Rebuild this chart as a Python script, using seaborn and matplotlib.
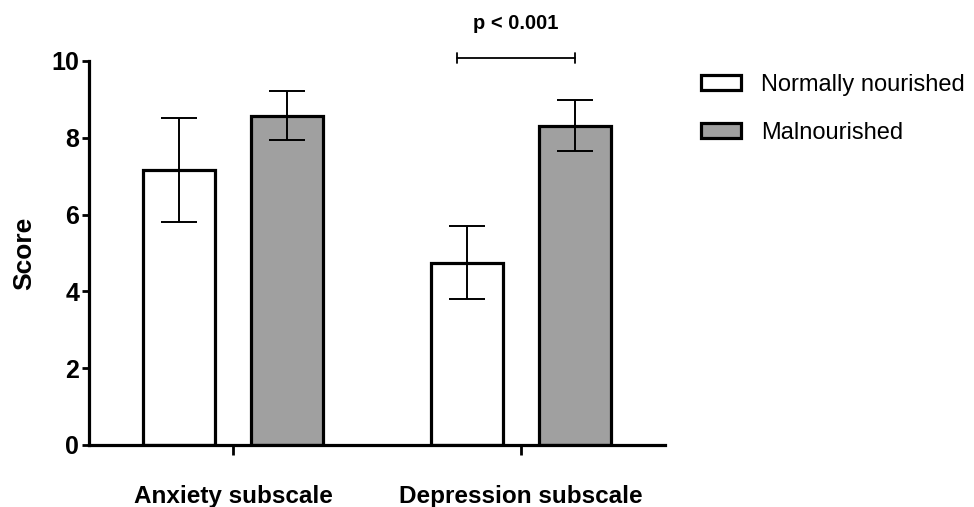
import matplotlib
matplotlib.use('Agg')
import matplotlib.pyplot as plt
import pandas as pd
import seaborn as sns

subscales = ['Anxiety subscale', 'Depression subscale']
groups = ['Normally nourished', 'Malnourished']
normal_mean = [7.16, 4.75]
normal_err = [1.35, 0.96]
malnourished_mean = [8.57, 8.32]
malnourished_err = [0.64, 0.66]
y_ticks = [0, 2, 4, 6, 8, 10]
p_label = 'p < 0.001'

df = pd.DataFrame({
    'subscale': subscales * 2,
    'group': [groups[0]] * 2 + [groups[1]] * 2,
    'score': normal_mean + malnourished_mean,
    'err': normal_err + malnourished_err,
})

sns.set_style('ticks')
plt.rcParams['font.family'] = ['Liberation Sans', 'DejaVu Sans']
plt.rcParams['text.color'] = 'black'
plt.rcParams['axes.labelcolor'] = 'black'
plt.rcParams['xtick.color'] = 'black'
plt.rcParams['ytick.color'] = 'black'
plt.rcParams['axes.edgecolor'] = 'black'

fig = plt.figure(figsize=(9.74, 5.07), dpi=100)
ax = fig.add_axes([0.0914, 0.1223, 0.5914, 0.7574])

sns.barplot(data=df, x='subscale', y='score', hue='group', hue_order=groups,
            palette=['white', '#a0a0a0'], edgecolor='black', linewidth=2.3,
            width=0.746, gap=0.33, errorbar=None, ax=ax)

# error bars on top of each bar
bars = ax.patches[:4]
xs = [b.get_x() + b.get_width() / 2 for b in bars]
ax.errorbar(xs, df['score'], yerr=df['err'], fmt='none', ecolor='black',
            elinewidth=1.4, capsize=13, capthick=1.4, zorder=5)

# significance bracket between the depression bars
x1, x2 = xs[1] - 0.035, xs[3]
yb = 10.07
ax.plot([x1, x2], [yb, yb], color='black', lw=1.3, clip_on=False)
ax.plot([x1, x1], [yb - 0.13, yb + 0.13], color='black', lw=1.3, clip_on=False)
ax.plot([x2, x2], [yb - 0.13, yb + 0.13], color='black', lw=1.3, clip_on=False)
ax.text((x1 + x2) / 2, 10.98, p_label, ha='center', va='center',
        fontsize=14.5, fontweight='bold', clip_on=False)

ax.set_xlim(-0.5, 1.5)
ax.set_ylim(0, 10)
ax.set_yticks(y_ticks)
ax.set_xlabel('')
ax.set_ylabel('Score', fontsize=19, fontweight='bold')
ax.yaxis.set_label_coords(-0.092, 0.5)

for s in ['top', 'right']:
    ax.spines[s].set_visible(False)
for s in ['left', 'bottom']:
    ax.spines[s].set_linewidth(2.3)

ax.tick_params(axis='y', length=5, width=2, labelsize=18, pad=2)
ax.tick_params(axis='x', length=7, width=2, labelsize=17.5, pad=22)
for lab in ax.get_xticklabels() + ax.get_yticklabels():
    lab.set_fontweight('bold')

sns.move_legend(ax, 'upper left', bbox_to_anchor=(1.026, 1.022), frameon=False,
                title=None, fontsize=17, handlelength=1.7, handleheight=0.6,
                labelspacing=1.1, handletextpad=0.85)
for h in ax.get_legend().get_patches():
    h.set_linewidth(2.3)

fig.savefig('out.png', dpi=100)
